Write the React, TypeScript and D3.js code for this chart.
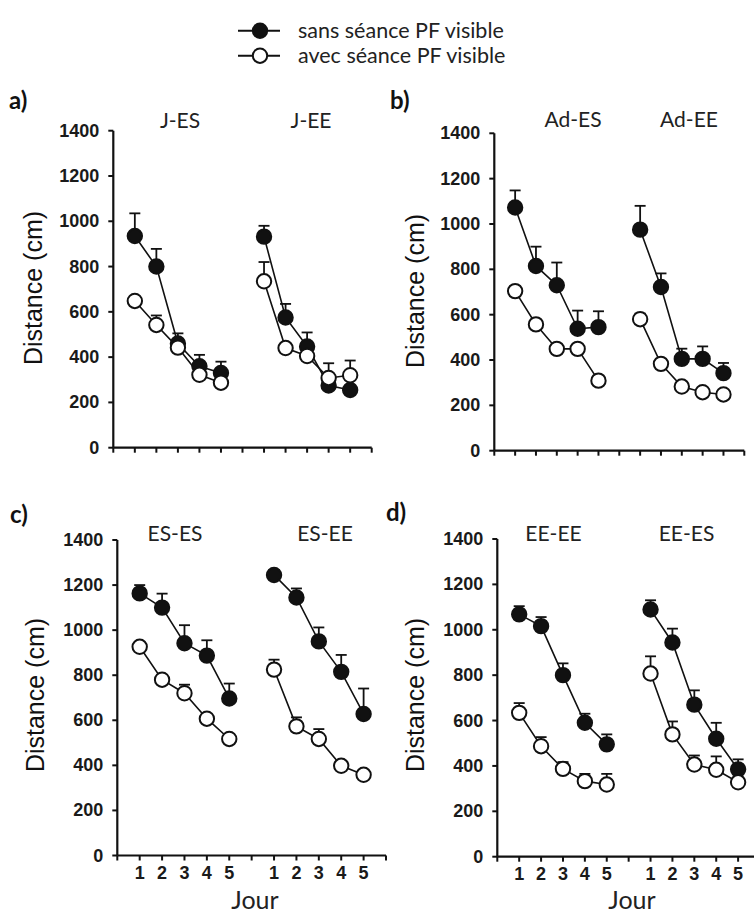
import React from "react";
import * as d3 from "d3";

// ---------- data ----------
const days = [1, 2, 3, 4, 5];
const yTicks = [0, 200, 400, 600, 800, 1000, 1200, 1400];
const seriesNames = ["sans séance  PF visible", "avec séance  PF visible"];
const panelLabels = ["a)", "b)", "c)", "d)"];
const groupTitles = [["J-ES", "J-EE"], ["Ad-ES", "Ad-EE"], ["ES-ES", "ES-EE"], ["EE-EE", "EE-ES"]];
const xAxisTitle = "Jour";
const yAxisTitle = "Distance (cm)";

// panel a
const jES_sans = [935, 800, 460, 360, 330];
const jES_sansErr = [100, 78, 45, 50, 50];
const jES_avec = [648, 542, 442, 322, 287];
const jES_avecErr = [10, 42, 10, 10, 10];
const jEE_sans = [932, 575, 447, 275, 255];
const jEE_sansErr = [48, 60, 62, 10, 10];
const jEE_avec = [735, 440, 405, 308, 320];
const jEE_avecErr = [85, 10, 10, 65, 65];
// panel b
const adES_sans = [1073, 815, 730, 538, 545];
const adES_sansErr = [75, 85, 100, 80, 70];
const adES_avec = [704, 557, 449, 449, 309];
const adES_avecErr = [20, 10, 10, 10, 10];
const adEE_sans = [975, 722, 405, 405, 342];
const adEE_sansErr = [105, 60, 45, 55, 45];
const adEE_avec = [580, 383, 283, 258, 248];
const adEE_avecErr = [25, 10, 10, 10, 10];
// panel c
const esES_sans = [1163, 1100, 942, 887, 697];
const esES_sansErr = [37, 62, 80, 68, 66];
const esES_avec = [926, 780, 720, 607, 517];
const esES_avecErr = [10, 15, 38, 12, 8];
const esEE_sans = [1245, 1145, 950, 815, 628];
const esEE_sansErr = [22, 40, 62, 75, 113];
const esEE_avec = [825, 573, 517, 398, 358];
const esEE_avecErr = [44, 40, 44, 10, 10];
// panel d
const eeEE_sans = [1068, 1016, 800, 590, 495];
const eeEE_sansErr = [36, 40, 52, 40, 44];
const eeEE_avec = [634, 487, 387, 333, 318];
const eeEE_avecErr = [43, 40, 30, 32, 47];
const eeES_sans = [1089, 944, 670, 520, 385];
const eeES_sansErr = [41, 61, 63, 70, 44];
const eeES_avec = [807, 539, 406, 383, 328];
const eeES_avecErr = [76, 57, 40, 59, 10];

const panelData = [
  [
    [jES_sans, jES_sansErr, jES_avec, jES_avecErr],
    [jEE_sans, jEE_sansErr, jEE_avec, jEE_avecErr],
  ],
  [
    [adES_sans, adES_sansErr, adES_avec, adES_avecErr],
    [adEE_sans, adEE_sansErr, adEE_avec, adEE_avecErr],
  ],
  [
    [esES_sans, esES_sansErr, esES_avec, esES_avecErr],
    [esEE_sans, esEE_sansErr, esEE_avec, esEE_avecErr],
  ],
  [
    [eeEE_sans, eeEE_sansErr, eeEE_avec, eeEE_avecErr],
    [eeES_sans, eeES_sansErr, eeES_avec, eeES_avecErr],
  ],
];

// ---------- layout ----------
const W = 754;
const H = 917;
const layout = [
  { lx: 9, ly: 109, x0: 113.3, x12: 371.7, y0: 447.7, yTop: 130.7, tx: [180, 311], ty: 128, ytx: 33, yty: 288, xLabels: false, jx: 0 },
  { lx: 390, ly: 109, x0: 494.3, x12: 744.3, y0: 450.7, yTop: 133.3, tx: [573, 689], ty: 127, ytx: 415, yty: 291, xLabels: false, jx: 0 },
  { lx: 10, ly: 523, x0: 117.3, x12: 386, y0: 855.5, yTop: 540, tx: [175, 325], ty: 541, ytx: 35, yty: 695, xLabels: true, jx: 255 },
  { lx: 386, ly: 521, x0: 497.3, x12: 760, y0: 856.7, yTop: 539, tx: [553.5, 686.5], ty: 541, ytx: 415, yty: 695, xLabels: true, jx: 632 },
];

const ARIAL = "'Liberation Sans', Arial, sans-serif";
const CALIBRI = "Lato, 'Open Sans', sans-serif";
const R = 7.2;

function Panel({ idx }: { idx: number }) {
  const L = layout[idx];
  const x = d3.scaleLinear().domain([0, 12]).range([L.x0, L.x12]);
  const y = d3.scaleLinear().domain([0, 1400]).range([L.y0, L.yTop]);
  const groups = panelData[idx];

  const renderSeries = (vals: number[], errs: number[], offset: number, filled: boolean, key: string) => {
    const pts = vals.map((v, i) => [x(days[i] + offset), y(v)] as [number, number]);
    const path = d3.line()(pts) || "";
    return (
      <g key={key}>
        <path d={path} fill="none" stroke="#111" strokeWidth={1.6} />
        {vals.map((v, i) => {
          const cx = x(days[i] + offset);
          const top = y(v + errs[i]);
          return (
            <g key={i}>
              <line x1={cx} x2={cx} y1={y(v)} y2={top} stroke="#111" strokeWidth={1.8} />
              <line x1={cx - 5.5} x2={cx + 5.5} y1={top} y2={top} stroke="#111" strokeWidth={1.8} />
            </g>
          );
        })}
        {vals.map((v, i) => (
          <circle
            key={"c" + i}
            cx={x(days[i] + offset)}
            cy={y(v)}
            r={R}
            fill={filled ? "#111" : "#fff"}
            stroke="#111"
            strokeWidth={2}
          />
        ))}
      </g>
    );
  };

  const xTickVals = d3.range(0, 13);
  return (
    <g>
      <text x={L.lx} y={L.ly} fontFamily={CALIBRI} fontWeight={700} fontSize={24} fill="#111">
        {panelLabels[idx]}
      </text>
      {groupTitles[idx].map((t, i) => (
        <text key={t} x={L.tx[i]} y={L.ty} textAnchor="middle" fontFamily={CALIBRI} fontSize={21} fill="#222">
          {t}
        </text>
      ))}
      <text
        transform={`translate(${L.ytx},${L.yty}) rotate(-90)`}
        textAnchor="middle"
        dominantBaseline="central"
        fontFamily={ARIAL}
        fontSize={25}
        fill="#111"
      >
        {yAxisTitle}
      </text>
      {/* y axis */}
      <line x1={L.x0} x2={L.x0} y1={L.yTop} y2={L.y0} stroke="#111" strokeWidth={2.2} />
      {yTicks.map((t) => (
        <g key={t}>
          <line x1={L.x0 - 5} x2={L.x0} y1={y(t)} y2={y(t)} stroke="#111" strokeWidth={2} />
          <text
            x={L.x0 - 14}
            y={y(t)}
            textAnchor="end"
            dominantBaseline="central"
            fontFamily={ARIAL}
            fontWeight={700}
            fontSize={18}
            fill="#1a1a1a"
          >
            {t}
          </text>
        </g>
      ))}
      {/* x axis */}
      <line x1={L.x0} x2={L.x12} y1={L.y0} y2={L.y0} stroke="#111" strokeWidth={2.2} />
      {xTickVals.map((t) => (
        <line key={t} x1={x(t)} x2={x(t)} y1={L.y0} y2={L.y0 + 5} stroke="#111" strokeWidth={2} />
      ))}
      {L.xLabels &&
        [0, 6].map((off) =>
          days.map((d) => (
            <text
              key={off + "-" + d}
              x={x(d + off)}
              y={L.y0 + 23}
              textAnchor="middle"
              fontFamily={ARIAL}
              fontWeight={700}
              fontSize={18}
              fill="#1a1a1a"
            >
              {d}
            </text>
          ))
        )}
      {L.xLabels && (
        <text x={L.jx} y={909} textAnchor="middle" fontFamily={CALIBRI} fontSize={25} fill="#222">
          {xAxisTitle}
        </text>
      )}
      {/* series: filled first, open on top */}
      {groups.map((g, gi) => renderSeries(g[0], g[1], gi * 6, true, "s" + gi))}
      {groups.map((g, gi) => renderSeries(g[2], g[3], gi * 6, false, "a" + gi))}
    </g>
  );
}

function Legend() {
  const rows = [
    { y: 30.7, filled: true },
    { y: 55.7, filled: false },
  ];
  return (
    <g>
      {rows.map((r, i) => (
        <g key={i}>
          <line x1={238} x2={280} y1={r.y} y2={r.y} stroke="#111" strokeWidth={2} />
          <circle cx={260} cy={r.y} r={R} fill={r.filled ? "#111" : "#fff"} stroke="#111" strokeWidth={2} />
          <text x={298} y={r.y + 7} fontFamily={CALIBRI} fontSize={21.5} fill="#222">
            {seriesNames[i]}
          </text>
        </g>
      ))}
    </g>
  );
}

export default function App() {
  return (
    <svg
      width={W}
      height={H}
      viewBox={`0 0 ${W} ${H}`}
      style={{ position: "absolute", left: 0, top: 0, background: "#fff" }}
    >
      <rect width={W} height={H} fill="#fff" />
      <Legend />
      {layout.map((_, i) => (
        <Panel key={i} idx={i} />
      ))}
    </svg>
  );
}
